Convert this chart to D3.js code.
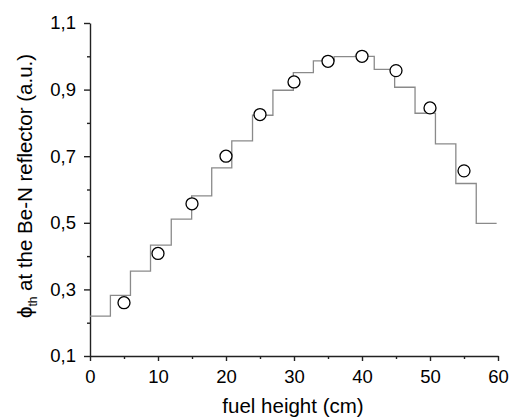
<!DOCTYPE html>
<html>
<head>
<meta charset="utf-8">
<script src="https://cdn.jsdelivr.net/npm/d3@7"></script>
<style>
  body { margin: 0; background: #fff; }
  svg { display: block; font-family: "Liberation Sans", Arial, sans-serif; }
</style>
</head>
<body>
<svg id="chart" width="510" height="420"></svg>
<script>
// step profile (calculated)
const stepEdges = [0, 3.0, 5.95, 8.9, 11.95, 14.95, 17.9, 20.85, 23.9, 26.9, 29.9,
  32.85, 35.9, 38.9, 41.8, 44.8, 47.8, 50.8, 53.8, 56.8, 59.8];
const stepValues = [0.22, 0.282, 0.355, 0.433, 0.511, 0.581, 0.665, 0.746, 0.823, 0.898,
  0.951, 0.986, 0.999, 1.0, 0.961, 0.907, 0.829, 0.737, 0.618, 0.498];

// measured points
const pointX = [5, 10, 15, 20, 25, 30, 35, 40, 45, 50, 55];
const pointY = [0.26, 0.408, 0.557, 0.70, 0.825, 0.923, 0.985, 1.0, 0.957, 0.845, 0.656];

// ticks
const xMajor = [0, 10, 20, 30, 40, 50, 60];
const xMinor = [5, 15, 25, 35, 45, 55];
const yMajor = [0.1, 0.3, 0.5, 0.7, 0.9, 1.1];
const yMinor = [0.2, 0.4, 0.6, 0.8, 1.0];

const svg = d3.select("#chart");

const x = d3.scaleLinear().domain([0, 60]).range([90, 498]);
const y = d3.scaleLinear().domain([0.1, 1.1]).range([356, 23]);

const fmt = d => d3.format(".1f")(d).replace(".", ",");
const axisColor = "#222";

// minor ticks
svg.append("g")
  .attr("transform", "translate(0,356)")
  .call(d3.axisBottom(x).tickValues(xMinor).tickSize(3).tickFormat(""))
  .call(g => g.select(".domain").remove());
svg.append("g")
  .attr("transform", "translate(90,0)")
  .call(d3.axisLeft(y).tickValues(yMinor).tickSize(3).tickFormat(""))
  .call(g => g.select(".domain").remove());

// major axes
const xAxis = svg.append("g")
  .attr("transform", "translate(0,356)")
  .call(d3.axisBottom(x).tickValues(xMajor).tickSize(5).tickSizeOuter(0).tickPadding(9));
xAxis.selectAll("text").style("font-size", "18.5px").attr("fill", "#000");

const yAxis = svg.append("g")
  .attr("transform", "translate(90,0)")
  .call(d3.axisLeft(y).tickValues(yMajor).tickFormat(fmt).tickSize(6).tickSizeOuter(0).tickPadding(8));
yAxis.selectAll("text").style("font-size", "18.5px").attr("fill", "#000");

svg.selectAll(".domain, .tick line")
  .attr("stroke", axisColor)
  .attr("stroke-width", 1.4);

// step line
const stepPts = stepValues.map((v, i) => [stepEdges[i], v]);
stepPts.push([stepEdges[stepEdges.length - 1], stepValues[stepValues.length - 1]]);

svg.append("path")
  .datum(stepPts)
  .attr("fill", "none")
  .attr("stroke", "#8a8a8a")
  .attr("stroke-width", 1.3)
  .attr("d", d3.line().x(d => x(d[0])).y(d => y(d[1])).curve(d3.curveStepAfter));

// circles
svg.selectAll("circle.pt")
  .data(pointX.map((px, i) => [px, pointY[i]]))
  .enter()
  .append("circle")
  .attr("class", "pt")
  .attr("cx", d => x(d[0]))
  .attr("cy", d => y(d[1]))
  .attr("r", 6)
  .attr("fill", "#fff")
  .attr("stroke", "#000")
  .attr("stroke-width", 1.3);

// x title
svg.append("text")
  .attr("x", 293)
  .attr("y", 413)
  .attr("text-anchor", "middle")
  .style("font-size", "20.5px")
  .text("fuel height (cm)");

// y title
const yt = svg.append("text")
  .attr("transform", "translate(32,186) rotate(-90)")
  .attr("text-anchor", "middle")
  .style("font-size", "20.5px");
yt.append("tspan").text("\u03d5");
yt.append("tspan").attr("dy", 5).style("font-size", "12px").text("th");
yt.append("tspan").attr("dy", -5).text(" at the Be-N reflector (a.u.)");
</script>
</body>
</html>
